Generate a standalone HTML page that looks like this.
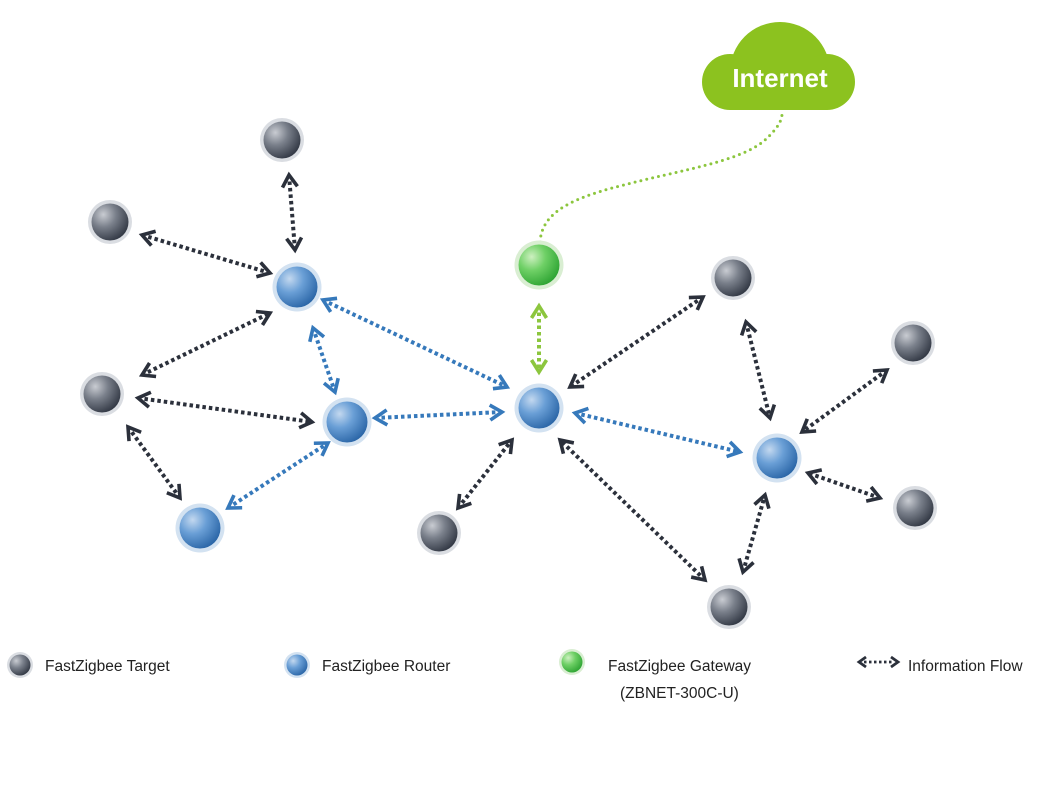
<!DOCTYPE html>
<html>
<head>
<meta charset="utf-8">
<style>
html,body{margin:0;padding:0;background:#fff;}
body{width:1038px;height:804px;overflow:hidden;}
svg{display:block;}
text{font-family:"Liberation Sans",Arial,sans-serif;}
</style>
</head>
<body>
<svg width="1038" height="804" viewBox="0 0 1038 804" xmlns="http://www.w3.org/2000/svg">
<defs>
  <radialGradient id="gT" cx="32%" cy="30%" r="75%">
    <stop offset="0" stop-color="#c9ccd2"/>
    <stop offset="0.45" stop-color="#7a808b"/>
    <stop offset="1" stop-color="#343a46"/>
  </radialGradient>
  <radialGradient id="gR" cx="32%" cy="30%" r="75%">
    <stop offset="0" stop-color="#c3d8ef"/>
    <stop offset="0.45" stop-color="#6a9fd6"/>
    <stop offset="1" stop-color="#2c67a8"/>
  </radialGradient>
  <radialGradient id="gG" cx="32%" cy="30%" r="75%">
    <stop offset="0" stop-color="#cdf0c0"/>
    <stop offset="0.45" stop-color="#6fd066"/>
    <stop offset="1" stop-color="#2fa534"/>
  </radialGradient>
  <marker id="mD" viewBox="-16 -11 22 22" refX="0" refY="0" markerWidth="22" markerHeight="22" markerUnits="userSpaceOnUse" orient="auto-start-reverse">
    <path d="M-12,-7.5 L0,0 L-12,7.5" fill="none" stroke="#2b303b" stroke-width="3.6"/>
  </marker>
  <marker id="mB" viewBox="-16 -11 22 22" refX="0" refY="0" markerWidth="22" markerHeight="22" markerUnits="userSpaceOnUse" orient="auto-start-reverse">
    <path d="M-12,-7.5 L0,0 L-12,7.5" fill="none" stroke="#3679bb" stroke-width="3.6"/>
  </marker>
  <marker id="mG" viewBox="-16 -11 22 22" refX="0" refY="0" markerWidth="22" markerHeight="22" markerUnits="userSpaceOnUse" orient="auto-start-reverse">
    <path d="M-12,-7.5 L0,0 L-12,7.5" fill="none" stroke="#8cc63e" stroke-width="3.6"/>
  </marker>
  <clipPath id="cc"><rect x="690" y="0" width="180" height="110"/></clipPath>
</defs>

<!-- Cloud -->
<g fill="#8cc21f" clip-path="url(#cc)">
  <circle cx="780" cy="72" r="50"/>
  <circle cx="730" cy="82" r="28"/>
  <circle cx="827" cy="82" r="28"/>
  <rect x="730" y="60" width="97" height="50"/>
</g>
<text x="780" y="87" text-anchor="middle" font-size="26" font-weight="bold" fill="#ffffff">Internet</text>

<!-- Green curved dotted link -->
<path d="M540,242 C542,215 565,200 620,186 C680,170 740,162 765,140 C778,128 783,120 782,110" fill="none" stroke="#8cc63e" stroke-width="3" stroke-linecap="round" stroke-dasharray="0 6"/>

<!-- Dark arrows -->
<g fill="none" stroke="#2b303b" stroke-width="4" stroke-dasharray="3.5 3" marker-start="url(#mD)" marker-end="url(#mD)">
  <line x1="289" y1="175" x2="295" y2="250"/>
  <line x1="142" y1="235" x2="270" y2="273"/>
  <line x1="142" y1="375" x2="270" y2="313"/>
  <line x1="138" y1="398" x2="312" y2="422"/>
  <line x1="128" y1="427" x2="180" y2="498"/>
  <line x1="458" y1="508" x2="512" y2="440"/>
  <line x1="705" y1="580" x2="560" y2="440"/>
  <line x1="703" y1="297" x2="570" y2="387"/>
  <line x1="746" y1="322" x2="770" y2="418"/>
  <line x1="887" y1="370" x2="802" y2="432"/>
  <line x1="880" y1="498" x2="808" y2="473"/>
  <line x1="743" y1="572" x2="765" y2="495"/>
</g>

<!-- Blue arrows -->
<g fill="none" stroke="#3679bb" stroke-width="4" stroke-dasharray="3.5 3" marker-start="url(#mB)" marker-end="url(#mB)">
  <line x1="313" y1="328" x2="335" y2="392"/>
  <line x1="323" y1="300" x2="507" y2="387"/>
  <line x1="375" y1="418" x2="502" y2="412"/>
  <line x1="228" y1="508" x2="328" y2="443"/>
  <line x1="575" y1="413" x2="740" y2="452"/>
</g>

<!-- Green arrow -->
<g fill="none" stroke="#8cc63e" stroke-width="4" stroke-dasharray="3.5 3" marker-start="url(#mG)" marker-end="url(#mG)">
  <line x1="539" y1="306" x2="539" y2="372"/>
</g>

<!-- Target nodes -->
<g>
  <g fill="#dadde2">
    <circle cx="282" cy="140" r="22"/>
    <circle cx="110" cy="222" r="22"/>
    <circle cx="102" cy="394" r="22"/>
    <circle cx="439" cy="533" r="22"/>
    <circle cx="733" cy="278" r="22"/>
    <circle cx="913" cy="343" r="22"/>
    <circle cx="915" cy="508" r="22"/>
    <circle cx="729" cy="607" r="22"/>
  </g>
  <g fill="url(#gT)">
    <circle cx="282" cy="140" r="18.5"/>
    <circle cx="110" cy="222" r="18.5"/>
    <circle cx="102" cy="394" r="18.5"/>
    <circle cx="439" cy="533" r="18.5"/>
    <circle cx="733" cy="278" r="18.5"/>
    <circle cx="913" cy="343" r="18.5"/>
    <circle cx="915" cy="508" r="18.5"/>
    <circle cx="729" cy="607" r="18.5"/>
  </g>
</g>

<!-- Router nodes -->
<g>
  <g fill="#d3e2f1">
    <circle cx="297" cy="287" r="24.5"/>
    <circle cx="347" cy="422" r="24.5"/>
    <circle cx="200" cy="528" r="24.5"/>
    <circle cx="539" cy="408" r="24.5"/>
    <circle cx="777" cy="458" r="24.5"/>
  </g>
  <g fill="url(#gR)">
    <circle cx="297" cy="287" r="20.5"/>
    <circle cx="347" cy="422" r="20.5"/>
    <circle cx="200" cy="528" r="20.5"/>
    <circle cx="539" cy="408" r="20.5"/>
    <circle cx="777" cy="458" r="20.5"/>
  </g>
</g>

<!-- Gateway node -->
<circle cx="539" cy="265" r="24.5" fill="#d9eed2"/>
<circle cx="539" cy="265" r="20.5" fill="url(#gG)"/>

<!-- Legend -->
<circle cx="20" cy="665" r="13" fill="#dadde2"/>
<circle cx="20" cy="665" r="10.5" fill="url(#gT)"/>
<text x="45" y="671" font-size="15.5" fill="#222">FastZigbee Target</text>

<circle cx="297" cy="665" r="13" fill="#d3e2f1"/>
<circle cx="297" cy="665" r="10.5" fill="url(#gR)"/>
<text x="322" y="671" font-size="15.5" fill="#222">FastZigbee Router</text>

<circle cx="572" cy="662" r="13" fill="#d9eed2"/>
<circle cx="572" cy="662" r="10.5" fill="url(#gG)"/>
<text x="608" y="671" font-size="15.5" fill="#222">FastZigbee Gateway</text>
<text x="620" y="698" font-size="15.5" fill="#222">(ZBNET-300C-U)</text>

<g fill="none" stroke="#2b303b" stroke-width="2.8">
  <path d="M866,657 L859,662 L866,667"/>
  <path d="M891,657 L898,662 L891,667"/>
  <line x1="864" y1="662" x2="893" y2="662" stroke-dasharray="2.5 2.5"/>
</g>
<text x="908" y="671" font-size="15.5" fill="#222">Information Flow</text>
</svg>
</body>
</html>
